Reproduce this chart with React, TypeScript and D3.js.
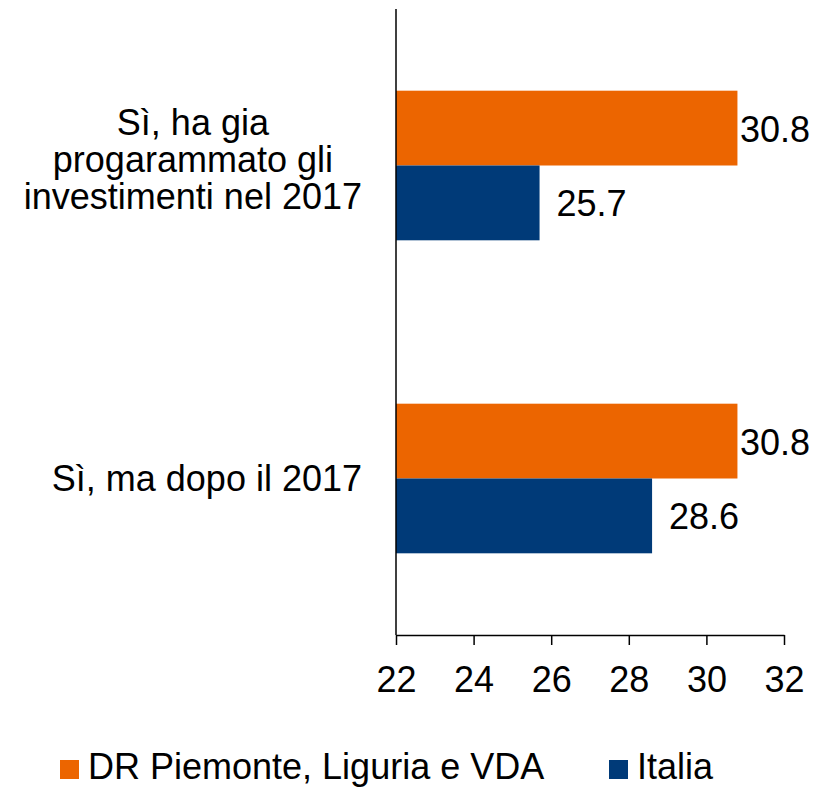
import React, { useEffect, useRef } from 'react';
import * as d3 from 'd3';

// Data
const categories = [
  ['Sì, ha gia', 'progarammato gli', 'investimenti nel 2017'],
  ['Sì, ma dopo il 2017'],
];
const seriesNames = ['DR Piemonte, Liguria e VDA', 'Italia'];
const piemonteValues = [30.8, 30.8];
const italiaValues = [25.7, 28.6];
const xTicks = [22, 24, 26, 28, 30, 32];
const colors = ['#EC6500', '#003A78'];

const App = () => {
  const ref = useRef<SVGSVGElement>(null);

  useEffect(() => {
    const width = 816;
    const height = 787;
    const margin = { top: 9, right: 32, bottom: 152, left: 396 };
    const font = '"Liberation Sans", Arial, sans-serif';

    const svg = d3.select(ref.current);
    svg.selectAll('*').remove();
    svg
      .attr('width', width)
      .attr('height', height)
      .attr('viewBox', [0, 0, width, height])
      .style('font-family', font);

    const x = d3
      .scaleLinear()
      .domain([22, 32])
      .range([margin.left, width - margin.right]);

    const y = d3
      .scaleBand<number>()
      .domain(categories.map((_, i) => i))
      .range([margin.top, height - margin.bottom])
      .paddingInner(0.522)
      .paddingOuter(0.261);

    const y1 = d3
      .scaleBand<number>()
      .domain([0, 1])
      .range([0, y.bandwidth()]);

    const series = [piemonteValues, italiaValues];

    // Bars
    series.forEach((vals, s) => {
      svg
        .append('g')
        .selectAll('rect')
        .data(vals)
        .join('rect')
        .attr('x', x(22))
        .attr('y', (_, i) => (y(i) as number) + (y1(s) as number))
        .attr('width', (d) => x(d) - x(22))
        .attr('height', y1.bandwidth())
        .attr('fill', colors[s]);

      // Value labels
      svg
        .append('g')
        .selectAll('text')
        .data(vals)
        .join('text')
        .attr('x', (d) => Math.min(x(d) + 17, width - 4 - 72))
        .attr('y', (_, i) => (y(i) as number) + (y1(s) as number) + y1.bandwidth() / 2)
        .attr('dy', 13.5)
        .attr('font-size', 36)
        .attr('fill', '#000')
        .text((d) => d.toFixed(1));
    });

    // X axis
    const xAxis = svg
      .append('g')
      .attr('transform', `translate(0,${height - margin.bottom})`)
      .call(
        d3
          .axisBottom(x)
          .tickValues(xTicks)
          .tickFormat(d3.format('d'))
          .tickSize(10)
          .tickSizeOuter(0)
          .tickPadding(21)
      );
    xAxis.select('.domain').attr('stroke', '#000').attr('stroke-width', 1.5);
    xAxis.selectAll('.tick line').attr('stroke', '#000').attr('stroke-width', 1.5);
    xAxis
      .selectAll('.tick text')
      .attr('font-size', 36)
      .attr('font-family', font)
      .attr('fill', '#000');

    // Y axis line
    svg
      .append('line')
      .attr('x1', x(22))
      .attr('x2', x(22))
      .attr('y1', margin.top)
      .attr('y2', height - margin.bottom)
      .attr('stroke', '#000')
      .attr('stroke-width', 1.5);

    // Category labels
    const labelRight = 362;
    const lineH = 37;
    categories.forEach((lines, i) => {
      const cy = (y(i) as number) + y.bandwidth() / 2;
      const t = svg
        .append('text')
        .attr('font-size', 36)
        .attr('fill', '#000');
      const n = lines.length;
      lines.forEach((line, j) => {
        t.append('tspan')
          .attr('y', cy + 12 + (j - (n - 1) / 2) * lineH - (n > 1 ? 6 : 0))
          .text(line);
      });
      if (n === 1) {
        t.attr('text-anchor', 'end').selectAll('tspan').attr('x', labelRight);
      } else {
        const widths = t
          .selectAll<SVGTSpanElement, unknown>('tspan')
          .nodes()
          .map((node) => node.getComputedTextLength());
        const maxW = d3.max(widths) || 0;
        t.attr('text-anchor', 'middle')
          .selectAll('tspan')
          .attr('x', labelRight - maxW / 2);
      }
    });

    // Legend
    const legendX = [60, 609];
    const legend = svg
      .append('g')
      .selectAll('g')
      .data(seriesNames)
      .join('g')
      .attr('transform', (_, i) => `translate(${legendX[i]},760)`);
    legend
      .append('rect')
      .attr('width', 19)
      .attr('height', 19)
      .attr('fill', (_, i) => colors[i]);
    legend
      .append('text')
      .attr('x', 28)
      .attr('y', 19)
      .attr('font-size', 36)
      .attr('fill', '#000')
      .text((d) => d);
  }, []);

  return (
    <div>
      <svg
        ref={ref}
        style={{ position: 'absolute', left: 0, top: 0, display: 'block' }}
      ></svg>
    </div>
  );
};

export default App;
